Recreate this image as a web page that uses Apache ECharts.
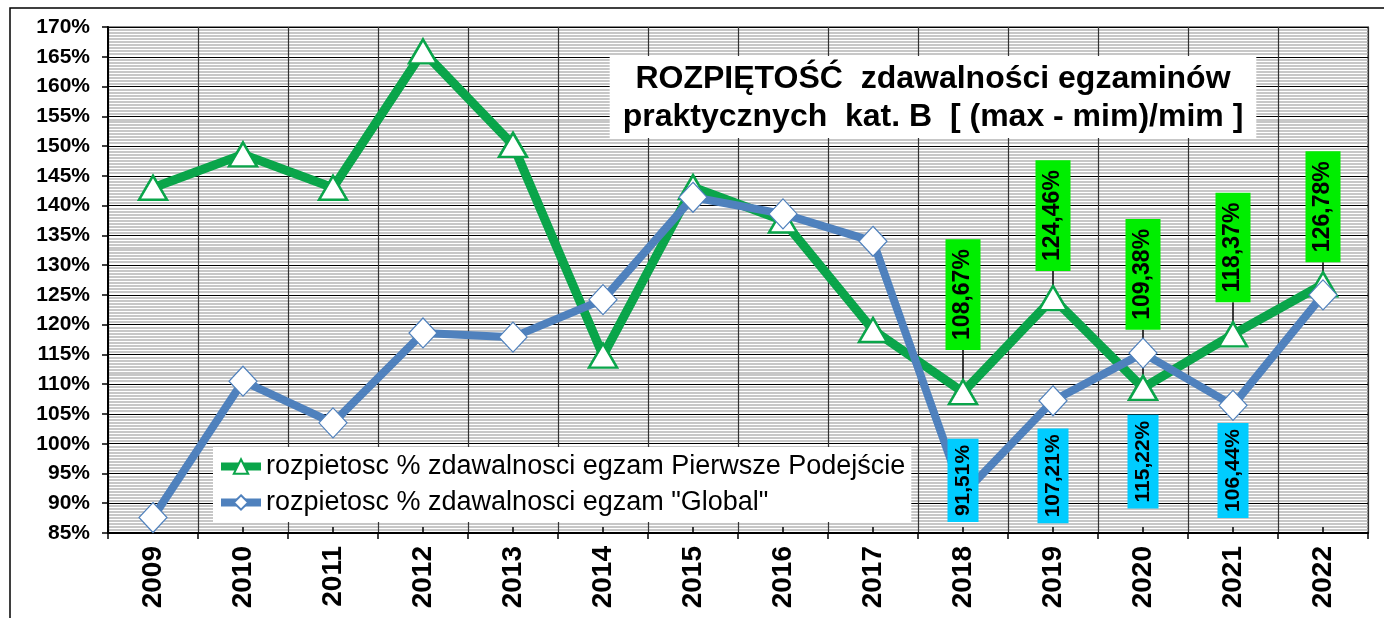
<!DOCTYPE html>
<html>
<head>
<meta charset="utf-8">
<script src="https://cdn.jsdelivr.net/npm/echarts@6/dist/echarts.min.js"></script>
<style>
  html, body { margin: 0; padding: 0; background: #fff; }
  #chart { width: 1384px; height: 618px; }
</style>
</head>
<body>
<div id="chart"></div>
<script>
// lata
var years = ['2009', '2010', '2011', '2012', '2013', '2014', '2015', '2016', '2017', '2018', '2019', '2020', '2021', '2022'];
// rozpietosc % - pierwsze podejscie
var firstAttempt = [143.0, 148.6, 143.0, 165.9, 150.2, 114.8, 143.1, 137.5, 119.1, 108.67, 124.46, 109.38, 118.37, 126.78];
// rozpietosc % - global
var globalVals = [87.6, 110.5, 103.5, 118.6, 117.9, 124.2, 141.4, 138.6, 134.0, 91.51, 107.21, 115.22, 106.44, 125.0];
// ktore punkty maja etykiety
var greenLabelIdx = [9, 10, 11, 12, 13];
var blueLabelIdx = [9, 10, 11, 12];
// odstep etykiety od punktu
var greenLabelGap = { 9: 29, 10: 14, 11: 45, 12: 19, 13: 9 };
var blueLabelGap = { 9: -71, 10: 12, 11: 46, 12: 2 };

var FONT = 'Liberation Sans, Arial, sans-serif';

function fmt(v) {
  return v.toFixed(2).replace('.', ',') + '%';
}

var greenData = firstAttempt.map(function (v, i) {
  if (greenLabelIdx.indexOf(i) < 0) return v;
  return {
    value: v,
    label: {
      show: true,
      position: 'top',
      distance: greenLabelGap[i],
      rotate: 90,
      align: 'left',
      verticalAlign: 'middle',
      formatter: fmt(v),
      fontFamily: FONT,
      fontWeight: 'bold',
      fontSize: 23,
      color: '#000',
      backgroundColor: '#00ee00',
      padding: [7, 10, 5, 10]
    },
    labelLine: {
      show: true,
      lineStyle: { color: '#000', width: 1.5 }
    }
  };
});

var blueData = globalVals.map(function (v, i) {
  if (blueLabelIdx.indexOf(i) < 0) return v;
  return {
    value: v,
    label: {
      show: true,
      position: 'bottom',
      distance: blueLabelGap[i],
      rotate: 90,
      align: 'right',
      verticalAlign: 'middle',
      formatter: fmt(v),
      fontFamily: FONT,
      fontWeight: 'bold',
      fontSize: 21,
      color: '#000',
      backgroundColor: '#00ccff',
      padding: [6, 6, 4, 6]
    }
  };
});

var chart = echarts.init(document.getElementById('chart'));
chart.setOption({
  animation: false,
  backgroundColor: '#fff',
  textStyle: { fontFamily: FONT },
  title: {
    text: 'ROZPIĘTOŚĆ  zdawalności egzaminów\npraktycznych  kat. B  [ (max - mim)/mim ]',
    left: 920,
    top: 56,
    backgroundColor: '#fff',
    padding: [4, 13, 2, 13],
    textAlign: 'center',
    textStyle: {
      fontFamily: FONT,
      fontWeight: 'bold',
      fontSize: 32,
      lineHeight: 38,
      color: '#000'
    }
  },
  legend: {
    left: 213,
    top: 447,
    orient: 'vertical',
    backgroundColor: '#fff',
    padding: [6, 6, 6, 4],
    itemGap: 9,
    itemWidth: 40,
    itemHeight: 18,
    lineStyle: { width: 8 },
    textStyle: { fontFamily: FONT, fontSize: 27, color: '#000' },
    data: ['rozpietosc % zdawalnosci egzam Pierwsze Podejście', 'rozpietosc % zdawalnosci egzam "Global"']
  },
  graphic: [{
    type: 'rect',
    shape: { x: 10, y: 8, width: 1390, height: 700 },
    style: { fill: 'none', stroke: '#000', lineWidth: 1.5 },
    silent: true,
    z: -1
  }],
  grid: { left: 108, right: 16, top: 27, bottom: 85, show: true, borderColor: '#8a8a8a', borderWidth: 2, backgroundColor: 'transparent' },
  xAxis: [{
    type: 'category',
    data: years,
    boundaryGap: true,
    axisLine: { lineStyle: { color: '#000', width: 2 } },
    axisTick: { show: true, inside: false, length: 6, lineStyle: { color: '#000', width: 1.5 } },
    axisLabel: { rotate: 90, fontFamily: FONT, fontWeight: 'bold', fontSize: 28, color: '#000', margin: 13 },
    splitLine: { show: true, lineStyle: { color: '#333', width: 1.2 } }
  }, {
    type: 'category',
    data: years,
    position: 'bottom',
    boundaryGap: true,
    axisLine: { show: false },
    axisTick: { show: true, inside: true, alignWithLabel: true, length: 6, lineStyle: { color: '#000', width: 1.5 } },
    axisLabel: { show: false },
    splitLine: { show: false }
  }],
  yAxis: {
    type: 'value',
    min: 85,
    max: 170,
    interval: 5,
    axisLine: { show: true, lineStyle: { color: '#000', width: 2 } },
    axisTick: { show: true, length: 6, lineStyle: { color: '#000', width: 1.5 } },
    axisLabel: { formatter: '{value}%', fontFamily: FONT, fontWeight: 'bold', fontSize: 21, color: '#000', margin: 18 },
    splitLine: { show: true, lineStyle: { color: '#000', width: 1.2 } },
    minorTick: { show: false, splitNumber: 10 },
    minorSplitLine: { show: true, lineStyle: { color: '#b4b4b4', width: 1.6 } }
  },
  series: [{
    name: 'rozpietosc % zdawalnosci egzam Pierwsze Podejście',
    type: 'line',
    data: greenData,
    symbol: 'triangle',
    symbolSize: [28, 24],
    lineStyle: { color: '#0aa54a', width: 9 },
    itemStyle: { color: '#fff', borderColor: '#0aa54a', borderWidth: 2.5 },
    z: 2
  }, {
    name: 'rozpietosc % zdawalnosci egzam "Global"',
    type: 'line',
    data: blueData,
    symbol: 'diamond',
    symbolSize: [28, 30],
    lineStyle: { color: '#4f81bd', width: 8 },
    itemStyle: { color: '#fff', borderColor: '#4f81bd', borderWidth: 1.2 },
    z: 3
  }]
});
</script>
</body>
</html>
